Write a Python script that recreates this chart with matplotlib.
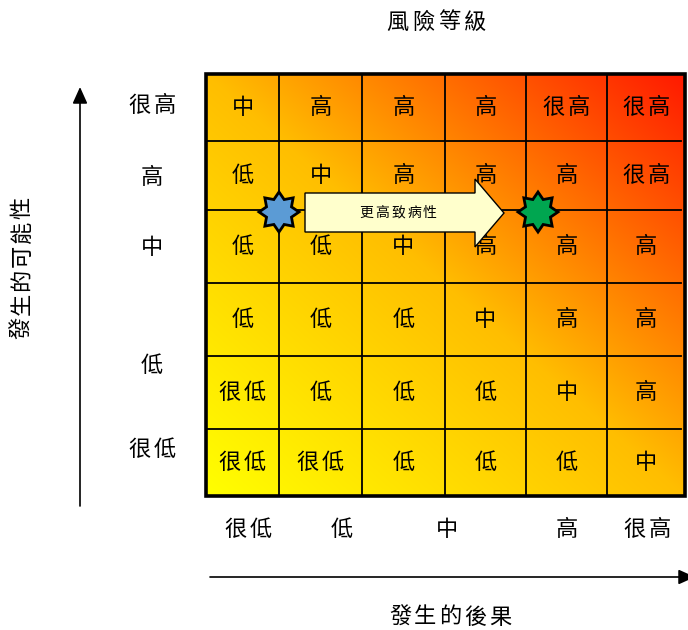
import numpy as np
import matplotlib
matplotlib.use("Agg")
import matplotlib.pyplot as plt
from matplotlib.patches import Polygon, Rectangle

plt.rcParams['font.family'] = ['Noto Sans CJK TC', 'DejaVu Sans']

# Risk level for each cell, rows from top (very high likelihood) to bottom
risk_grid = [
    ["中", "高", "高", "高", "很高", "很高"],
    ["低", "中", "高", "高", "高", "很高"],
    ["低", "低", "中", "高", "高", "高"],
    ["低", "低", "低", "中", "高", "高"],
    ["很低", "低", "低", "低", "中", "高"],
    ["很低", "很低", "低", "低", "低", "中"],
]
likelihood_labels = ["很高", "高", "中", "低", "很低"]
consequence_labels = ["很低", "低", "中", "高", "很高"]
title_text = "風險等級"
x_title = "發生的後果"
y_title = "發生的可能性"
arrow_text = "更高致病性"

# Layout (pixel-like canvas units)
W, H = 688, 630
col_edges = [206, 279, 362, 445, 526, 607, 685]
row_edges = [74, 141, 210, 283, 356, 429, 496]
likelihood_y = [105, 178, 247, 365, 450]
consequence_x = [248, 342, 447, 567, 647]
FS = 16

fig = plt.figure(figsize=(W / 100, H / 100), dpi=100)
ax = fig.add_axes([0, 0, 1, 1])
ax.set_xlim(0, W)
ax.set_ylim(H, 0)
ax.axis("off")


def spaced_text(x, y, s, pitch, vertical=False, **kw):
    """Draw a string one glyph at a time with a fixed character pitch."""
    n = len(s)
    for i, ch in enumerate(s):
        off = (i - (n - 1) / 2) * pitch
        if vertical:
            ax.text(x, y - off, ch, ha="center", va="center", rotation=90, **kw)
        else:
            ax.text(x + off, y, ch, ha="center", va="center", **kw)


# Diagonal yellow -> orange -> red gradient background
x0, x1 = col_edges[0], col_edges[-1]
y0, y1 = row_edges[0], row_edges[-1]
nx, ny = 400, 400
gx = np.linspace(0, 1, nx)
gy = np.linspace(1, 0, ny)  # image row 0 is the top
XX, YY = np.meshgrid(gx, gy)
t = (XX + YY) / 2
green = np.interp(t, [0.0, 0.5, 1.0], [255, 190, 25]) / 255.0
img = np.dstack([np.ones_like(t), green, np.zeros_like(t)])
ax.imshow(img, extent=(x0, x1, y1, y0), origin="upper", aspect="auto",
          interpolation="bilinear", zorder=0)

# Grid lines
for xe in col_edges[1:-1]:
    ax.plot([xe, xe], [y0, y1], color="black", lw=1.3, zorder=2)
for ye in row_edges[1:-1]:
    ax.plot([x0, x1 - 4], [ye, ye], color="black", lw=1.3, zorder=2)
ax.add_patch(Rectangle((x0, y0), x1 - x0, y1 - y0, fill=False,
                       edgecolor="black", lw=2.6, zorder=3))

# Cell labels
for r, row in enumerate(risk_grid):
    cy = (row_edges[r] + row_edges[r + 1]) / 2
    for c, label in enumerate(row):
        cx = (col_edges[c] + col_edges[c + 1]) / 2
        spaced_text(cx, cy, label, 25, fontsize=FS, color="black", zorder=4)

# Axis category labels
for lab, yy in zip(likelihood_labels, likelihood_y):
    spaced_text(152, yy, lab, 25, fontsize=FS)
for lab, xx in zip(consequence_labels, consequence_x):
    spaced_text(xx, 530, lab, 25, fontsize=FS)

# Titles
spaced_text(436, 22, title_text, 26, fontsize=FS)
spaced_text(450, 617, x_title, 25, fontsize=FS)
spaced_text(22, 268, y_title, 24, vertical=True, fontsize=FS)

# Axis direction arrows
ax.annotate("", xy=(80, 87), xytext=(80, 506), annotation_clip=False,
            arrowprops=dict(arrowstyle="-|>,head_length=1.0,head_width=0.45",
                            color="black", lw=1.2, shrinkA=0, shrinkB=0))
ax.annotate("", xy=(695, 577), xytext=(210, 577), annotation_clip=False,
            arrowprops=dict(arrowstyle="-|>,head_length=1.0,head_width=0.45",
                            color="black", lw=1.2, shrinkA=0, shrinkB=0))

# Block arrow showing the shift in pathogenicity
arrow_pts = [(305, 193), (475, 193), (475, 179), (504, 213), (475, 247),
             (475, 232), (305, 232)]
ax.add_patch(Polygon(arrow_pts, closed=True, facecolor="#FFFFCC",
                     edgecolor="black", lw=1.0, zorder=5))
spaced_text(398, 213, arrow_text, 16, fontsize=10, zorder=6)


def star(cx, cy, r_out, r_in, n=8):
    pts = []
    for k in range(2 * n):
        ang = np.pi / 2 + k * np.pi / n
        rr = r_out if k % 2 == 0 else r_in
        pts.append((cx + rr * np.cos(ang), cy - rr * np.sin(ang)))
    return pts


ax.add_patch(Polygon(star(279, 212, 20, 13.5), closed=True,
                     facecolor="#5B9BD5", edgecolor="black", lw=2.0, zorder=7))
ax.add_patch(Polygon(star(538, 212, 20, 13.5), closed=True,
                     facecolor="#00A650", edgecolor="black", lw=2.0, zorder=7))

fig.savefig("out.png", dpi=100)
